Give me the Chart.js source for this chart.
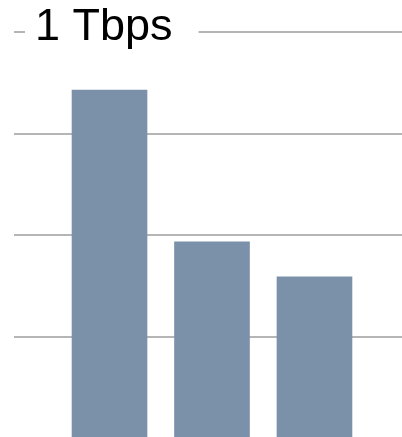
<!DOCTYPE html>
<html>
<head>
<meta charset="utf-8">
<script src="https://cdn.jsdelivr.net/npm/chart.js@4"></script>
<style>
  html, body { margin: 0; padding: 0; background: #fff; }
  #wrap { width: 402px; height: 437px; position: relative; }
</style>
</head>
<body>
<div id="wrap"><canvas id="bwC"></canvas></div>
<script>
// Dados (Tbps)
const categories = ['1', '2', '3'];
const throughput = [0.857, 0.484, 0.398];
const yTicks     = [0.25, 0.5, 0.75, 1];
const yTickLabel = '1 Tbps';

const barColor  = '#7b91a9';
const gridColor = '#b5b5b5';

// posição de cada barra = índice da categoria + 1
const points = categories.map((c, i) => ({ x: i + 1, y: throughput[i] }));

new Chart(document.getElementById('bwC'), {
  type: 'bar',
  data: {
    datasets: [{
      label: 'Tbps',
      data: points,
      backgroundColor: barColor,
      borderWidth: 0,
      barThickness: 75,
    }],
  },
  options: {
    responsive: true,
    maintainAspectRatio: false,
    animation: false,
    layout: { padding: { top: 32, bottom: 0, left: 14, right: 0 } },
    plugins: { legend: { display: false }, tooltip: { enabled: false } },
    scales: {
      x: {
        type: 'linear',
        display: false,
        offset: false,
        min: 0.068,
        max: 3.854,
      },
      y: {
        min: 0.0042,   // o zero fica logo abaixo da borda
        max: 1,
        afterBuildTicks: axis => { axis.ticks = yTicks.map(v => ({ value: v })); },
        // rótulo espelhado: eixo não ocupa espaço
        afterFit: axis => {
          axis.width = 0;
          axis.paddingTop = 0;
          axis.paddingBottom = 0;
          axis.paddingLeft = 0;
          axis.paddingRight = 0;
        },
        border: { display: false },
        grid: { color: gridColor, lineWidth: 2, drawTicks: false },
        ticks: {
          mirror: true,
          autoSkip: false,
          padding: 21,
          labelOffset: -4,
          color: '#000',
          font: { family: '"Liberation Sans", Arial, sans-serif', size: 45 },
          callback: v => (v === 1 ? yTickLabel : ''),
          showLabelBackdrop: ctx => ctx.tick && ctx.tick.value === 1,
          backdropColor: '#fff',
          backdropPadding: { left: 10, right: 26, top: 0, bottom: 0 },
        },
      },
    },
  },
});
</script>
</body>
</html>
